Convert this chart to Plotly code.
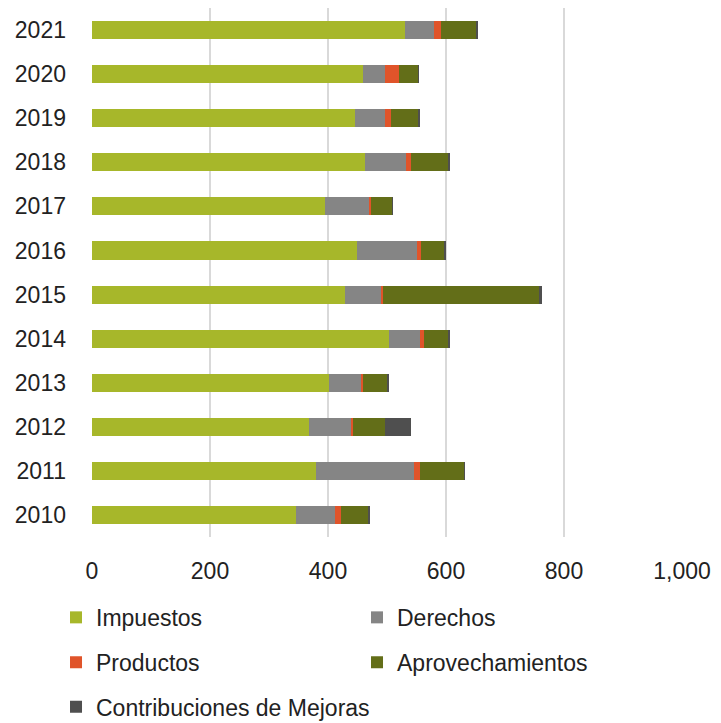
import plotly.graph_objects as go

years = ["2010", "2011", "2012", "2013", "2014", "2015", "2016", "2017", "2018", "2019", "2020", "2021"]
impuestos = [345, 379, 368, 402, 503, 429, 449, 395, 462, 446, 459, 530]
derechos = [67, 167, 71, 54, 53, 60, 101, 74, 71, 50, 37, 50]
productos = [10, 10, 3, 3, 7, 4, 7, 4, 7, 10, 24, 11]
aprovechamientos = [47, 75, 54, 41, 41, 265, 40, 36, 64, 47, 33, 60]
contribuciones = [3, 0.5, 44, 2, 3, 4, 3, 0.5, 3, 3, 0.5, 3]
x_ticks = [0, 200, 400, 600, 800, 1000]
x_tick_text = ["0", "200", "400", "600", "800", "1,000"]

series = [
    ("Impuestos", impuestos, "#A7B72A", "legend"),
    ("Derechos", derechos, "#858585", "legend"),
    ("Productos", productos, "#E0542A", "legend2"),
    ("Aprovechamientos", aprovechamientos, "#636E18", "legend2"),
    ("Contribuciones de Mejoras", contribuciones, "#4F4F4F", "legend3"),
]

FONT = "Liberation Sans"
fig = go.Figure()
for name, vals, color, leg in series:
    fig.add_trace(go.Bar(
        y=years, x=vals, name=name, orientation="h",
        marker=dict(color=color, line=dict(width=0)),
        legend=leg, hoverinfo="x+y+name",
    ))

def leg(y, ew):
    return dict(
        orientation="h", xanchor="left", yanchor="middle",
        x=-0.061, y=y, traceorder="normal",
        entrywidth=ew, font=dict(family=FONT, size=23, color="#222222"),
        bgcolor="rgba(0,0,0,0)", itemclick=False, itemdoubleclick=False,
    )

fig.update_layout(
    width=713, height=715,
    margin=dict(l=84, r=39, t=0, b=186, autoexpand=False),
    barmode="stack", bargap=0.59,
    plot_bgcolor="white", paper_bgcolor="white",
    font=dict(family=FONT, size=23, color="#222222"),
    xaxis=dict(
        range=[0, 1000], tickvals=x_ticks, ticktext=x_tick_text,
        showgrid=True, gridcolor="#D9D9D9", gridwidth=1.5,
        zeroline=False, showline=False, ticks="",
        ticklabelstandoff=18, automargin=False,
        tickfont=dict(family=FONT, size=23, color="#222222"),
        fixedrange=True,
    ),
    yaxis=dict(
        categoryorder="array", categoryarray=years,
        showgrid=False, showline=False, ticks="",
        ticklabelstandoff=25, automargin=False,
        tickfont=dict(family=FONT, size=23, color="#222222"),
        fixedrange=True,
    ),
    legend=leg(-0.152, 256),
    legend2=leg(-0.237, 256),
    legend3=leg(-0.321, 400),
    showlegend=True,
)

fig.write_html("out.html")
